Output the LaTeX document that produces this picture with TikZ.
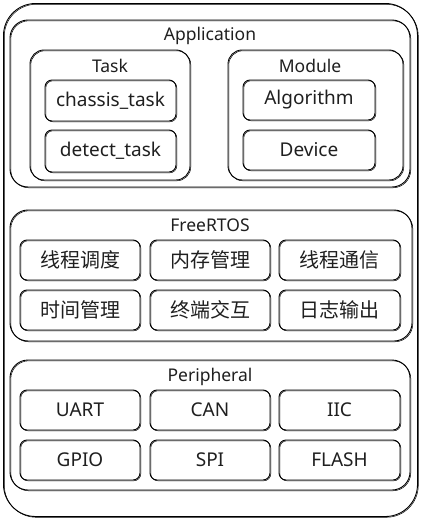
\documentclass[tikz,border=0pt]{standalone}
\usepackage{fontspec}
\setmainfont{Noto Sans}
\newfontfamily\cjk{Noto Sans CJK SC}
\begin{document}
\begin{tikzpicture}[x=1pt,y=-1pt,
  sk/.style={draw=black, line width=0.9pt, inner sep=0pt,
    preaction={draw=black, line width=0.5pt, transform canvas={shift={(0.8pt,-0.8pt)}}}},
  outerbox/.style={sk, rounded corners=32pt},
  groupbox/.style={sk, rounded corners=18pt},
  subbox/.style={sk, rounded corners=14pt},
  cell/.style={sk, rounded corners=7pt, font=\fontsize{19}{22}\selectfont, text=black!88},
  zhcell/.style={cell, font=\cjk\fontsize{20}{24}\selectfont},
  title/.style={font=\fontsize{17.5}{20}\selectfont, text=black!88, inner sep=0pt}
]
\useasboundingbox (0,0) rectangle (421,521);
% outer
\node[outerbox, minimum width=414pt, minimum height=513pt] (outer) at (210.5,260) {};
% Application layer
\node[groupbox, minimum width=400pt, minimum height=167pt] (app) at (210,103.5) {};
\node[title] (apptitle) at (210,36) {Application};
\node[subbox, minimum width=160pt, minimum height=130pt] (task) at (110,115) {};
\node[title] (tasktitle) at (110,66) {Task};
\node[cell, minimum width=131pt, minimum height=41pt] (chassis) at (110.5,100.5) {chassis\_task};
\node[cell, minimum width=131pt, minimum height=42pt] (detect) at (110.5,151) {detect\_task};
\node[subbox, minimum width=175pt, minimum height=130pt] (module) at (315.5,115) {};
\node[title] (moduletitle) at (310,66) {Module};
\node[cell, minimum width=132pt, minimum height=40pt] (algo) at (309,100) {Algorithm};
\node[cell, minimum width=132pt, minimum height=40pt] (device) at (309,150) {Device};
% FreeRTOS layer
\node[groupbox, minimum width=402pt, minimum height=131pt] (rtos) at (211,275.5) {};
\node[title] (rtostitle) at (210,225) {FreeRTOS};
\node[zhcell, minimum width=120pt, minimum height=40pt] (r1) at (80,260) {线程调度};
\node[zhcell, minimum width=120pt, minimum height=40pt] (r2) at (210,260) {内存管理};
\node[zhcell, minimum width=121pt, minimum height=40pt] (r3) at (339.5,260) {线程通信};
\node[zhcell, minimum width=120pt, minimum height=40pt] (r4) at (80,310) {时间管理};
\node[zhcell, minimum width=120pt, minimum height=40pt] (r5) at (210,310) {终端交互};
\node[zhcell, minimum width=121pt, minimum height=40pt] (r6) at (339.5,310) {日志输出};
% Peripheral layer
\node[groupbox, minimum width=400pt, minimum height=130pt] (per) at (210,425) {};
\node[title] (pertitle) at (210,377) {Peripheral};
\node[cell, minimum width=120pt, minimum height=40pt] (p1) at (80,410) {UART};
\node[cell, minimum width=120pt, minimum height=40pt] (p2) at (210,410) {CAN};
\node[cell, minimum width=121pt, minimum height=40pt] (p3) at (339.5,410) {IIC};
\node[cell, minimum width=120pt, minimum height=40pt] (p4) at (80,460) {GPIO};
\node[cell, minimum width=120pt, minimum height=40pt] (p5) at (210,460) {SPI};
\node[cell, minimum width=121pt, minimum height=40pt] (p6) at (339.5,460) {FLASH};
\end{tikzpicture}
\end{document}
